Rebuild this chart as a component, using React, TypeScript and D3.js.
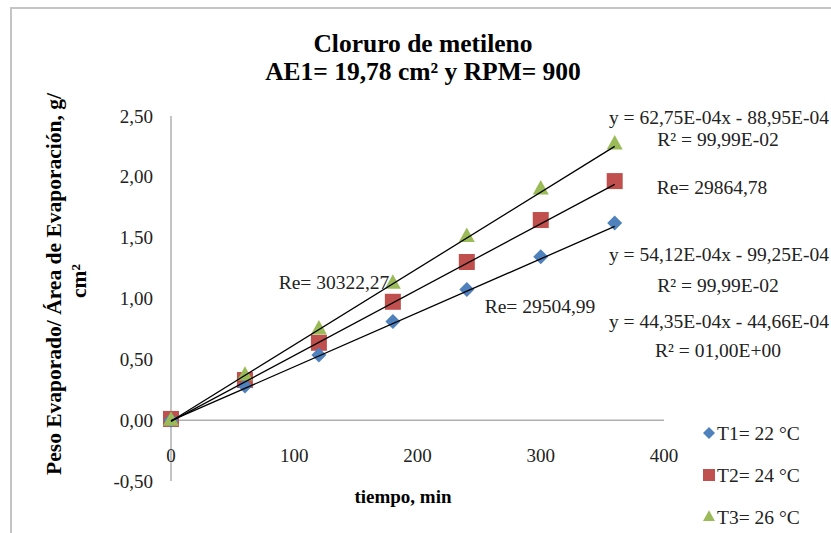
import React from 'react';
import * as d3 from 'd3';

const tiempo = [0, 60, 120, 180, 240, 300, 360];
const t1Values = [0.0, 0.28, 0.535, 0.81, 1.075, 1.343, 1.62];
const t2Values = [0.01, 0.33, 0.636, 0.973, 1.3, 1.645, 1.965];
const t3Values = [0.0, 0.37, 0.75, 1.125, 1.51, 1.9, 2.27];

const seriesNames = ['T1= 22 °C', 'T2= 24 °C', 'T3= 26 °C'];
const slopes = [44.35e-4, 54.12e-4, 62.75e-4];
const intercepts = [-44.66e-4, -99.25e-4, -88.95e-4];

const xTicks = [0, 100, 200, 300, 400];
const yTicks = [-0.5, 0, 0.5, 1.0, 1.5, 2.0, 2.5];

const W = 831;
const H = 533;
const serif = "'Liberation Serif', 'DejaVu Serif', serif";
const colors = ['#4f81bd', '#c0504d', '#9bbb59'];

const fmt = (v: number) => v.toFixed(2).replace('.', ',');

const Marker: React.FC<{ kind: number; x: number; y: number; s: number }> = ({ kind, x, y, s }) => {
  if (kind === 0) {
    const r = s / 2;
    return <path d={`M${x},${y - r}L${x + r},${y}L${x},${y + r}L${x - r},${y}Z`} fill={colors[0]} />;
  }
  if (kind === 1) {
    return <rect x={x - s / 2} y={y - s / 2} width={s} height={s} fill={colors[1]} />;
  }
  const h = s * 0.9;
  return <path d={`M${x},${y - h * 0.62}L${x + s / 2},${y + h * 0.38}L${x - s / 2},${y + h * 0.38}Z`} fill={colors[2]} />;
};

export default function App() {
  const x = d3.scaleLinear().domain([0, 400]).range([171, 664]);
  const y = d3.scaleLinear().domain([-0.5, 2.5]).range([481, 116]);

  const series = [t1Values, t2Values, t3Values];

  return (
    <svg width={W} height={H} style={{ display: 'block', position: 'absolute', left: 0, top: 0, fontFamily: serif }}>
      <rect x={0} y={0} width={W} height={H} fill="#fff" />
      <rect x={11} y={8} width={W + 20} height={H + 20} fill="none" stroke="#c4c4c4" strokeWidth={2} />

      <g style={{ fontFamily: serif, fontWeight: 'bold', fontSize: 25.5 }} textAnchor="middle" fill="#000">
        <text x={423} y={52}>Cloruro de metileno</text>
        <text x={423} y={80}>AE1= 19,78 cm² y RPM= 900</text>
      </g>

      {/* axes */}
      <line x1={x(0)} x2={x(0)} y1={y(2.5)} y2={y(-0.5)} stroke="#b0b0b0" strokeWidth={1.5} />
      <line x1={x(0)} x2={x(400)} y1={y(0)} y2={y(0)} stroke="#b0b0b0" strokeWidth={1.5} />

      <g style={{ fontFamily: serif, fontSize: 19 }} fill="#222">
        {yTicks.map(t => (
          <text key={t} x={153} y={y(t)} dy="0.35em" textAnchor="end">{fmt(t)}</text>
        ))}
        {xTicks.map(t => (
          <text key={t} x={x(t)} y={y(0) + 42} textAnchor="middle">{t}</text>
        ))}
      </g>

      <g style={{ fontFamily: serif, fontWeight: 'bold' }} fill="#000" textAnchor="middle">
        <text x={403} y={503} style={{ fontSize: 19 }}>tiempo, min</text>
        <text transform="translate(61,284) rotate(-90)" style={{ fontSize: 21.5 }}>Peso Evaporado/ Área de Evaporación, g/</text>
        <text transform="translate(86,281) rotate(-90)" style={{ fontSize: 21.5 }}>cm²</text>
      </g>

      {/* markers */}
      {[1, 0, 2].map(k => series[k].map((v, i) => (
        <Marker key={`${k}-${i}`} kind={k} x={x(tiempo[i])} y={y(v)} s={k === 0 ? 15 : 16} />
      )))}

      {/* trend lines */}
      {slopes.map((m, k) => (
        <line key={k} x1={x(0)} y1={y(intercepts[k])} x2={x(360)} y2={y(m * 360 + intercepts[k])} stroke="#000" strokeWidth={1.3} />
      ))}

      {/* annotations */}
      <g style={{ fontFamily: serif, fontSize: 19.5 }} fill="#222" textAnchor="middle">
        <text x={719} y={124}>y = 62,75E-04x - 88,95E-04</text>
        <text x={718} y={146}>R² = 99,99E-02</text>
        <text x={712} y={194}>Re= 29864,78</text>
        <text x={719} y={261}>y = 54,12E-04x - 99,25E-04</text>
        <text x={718} y={292}>R² = 99,99E-02</text>
        <text x={719} y={328}>y = 44,35E-04x - 44,66E-04</text>
        <text x={718} y={357}>R² = 01,00E+00</text>
        <text x={334} y={289}>Re= 30322,27</text>
        <text x={540} y={313}>Re= 29504,99</text>
      </g>

      {/* legend */}
      {seriesNames.map((n, k) => (
        <g key={n}>
          <Marker kind={k} x={709} y={433 + k * 42} s={12} />
          <text x={717} y={433 + k * 42} dy="0.35em" style={{ fontFamily: serif, fontSize: 19.5 }} fill="#222">{n}</text>
        </g>
      ))}
    </svg>
  );
}
